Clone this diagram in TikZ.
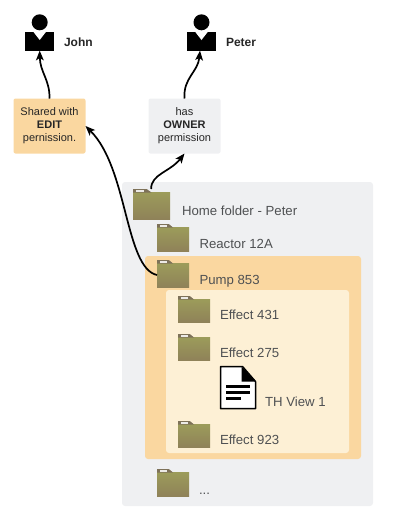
\documentclass[tikz,border=0pt]{standalone}
\usepackage{fontspec}
\setmainfont{Liberation Sans}
\usetikzlibrary{positioning, arrows.meta, calc}
\definecolor{panelgray}{HTML}{EFF0F2}
\definecolor{editorange}{HTML}{FAD7A0}
\definecolor{editlight}{HTML}{FDF0D5}
\definecolor{foldertop}{HTML}{9C9C5A}
\definecolor{folderbot}{HTML}{8F8259}
\definecolor{foldertab}{HTML}{7E7259}
\definecolor{labelgray}{HTML}{4F5153}
% folder: name, left, tab top, body width, body height
\newcommand{\folder}[5]{
  \node[folderbody, minimum width=#4, minimum height=#5, anchor=north west] (#1) at (#2,#3+3) {};
  \fill[foldertab] (#2,#3+3.5) -- (#2,#3) -- (#2+0.37*#4,#3) -- (#2+0.5*#4,#3+3.5) -- cycle;
  \fill[white!85!foldertab] (#2+3,#3+1) rectangle (#2+0.3*#4,#3+2.6);
  \coordinate (#1-tab) at (#2+0.49*#4,#3);
}
% person: name, centre x
\newcommand{\person}[2]{
  \node[head] (#1-head) at (#2,22.3) {};
  \node[torso] (#1) at (#2,41.3) {};
  \fill[white] (#2-6.5,31.6) -- (#2,40) -- (#2+6.5,31.6) -- cycle;
}
\begin{document}
\begin{tikzpicture}[
  x=1pt, y=-1pt,
  >={Stealth[length=3.4mm, width=2.7mm, inset=0.8mm]},
  every node/.style={inner sep=0pt, outer sep=0pt},
  note/.style     = {rounded corners=2pt, align=center, minimum width=72pt, minimum height=55pt, font=\fontsize{11}{13}\selectfont, text=black!85},
  folderbody/.style = {rectangle, top color=foldertop, bottom color=folderbot},
  head/.style     = {circle, fill=black, minimum size=16pt},
  torso/.style    = {rectangle, fill=black, minimum width=28.6pt, minimum height=18.6pt},
  item/.style     = {anchor=base west, text=labelgray, font=\fontsize{13.2}{15}\selectfont},
  who/.style      = {anchor=base west, text=black!85, font=\fontsize{12}{14}\selectfont\bfseries},
  arr/.style      = {->, line width=1.7pt, black},
]
  \useasboundingbox (0,0) rectangle (405,520);
  % Panels behind the folder tree
  \fill[panelgray, rounded corners=3pt] (122,182) rectangle (373,506);
  \fill[editorange, rounded corners=3pt] (145,256) rectangle (361,459);
  \fill[editlight, rounded corners=3pt] (166,290) rectangle (349,453);

  \person{john}{39.7}
  \person{peter}{201.5}
  \node[who] (johnlabel)  at (64,46)  {John};
  \node[who] (peterlabel) at (226,46) {Peter};

  \node[note, fill=editorange] (shared) at (49.5,126) {Shared with\\\textbf{EDIT}\\pernission.};
  \node[note, fill=panelgray]  (owner)  at (184.5,126) {has\\\textbf{OWNER}\\permission};

  % Folder tree
  \folder{home}{133}{189}{37}{27}
  \folder{reactor}{157}{224}{32}{24}
  \folder{pump}{157}{260}{32}{24}
  \folder{more}{157}{469}{32}{24}
  \foreach \name/\ytop in {effecta/296, effectb/334, effectc/421}
     \folder{\name}{178}{\ytop}{32}{23};

  \node[item] (homelabel)    at (182,215.5) {Home folder - Peter};
  \node[item] (reactorlabel) at (199.5,248) {Reactor 12A};
  \node[item] (pumplabel)    at (199.5,284) {Pump 853};
  \node[item] (effectalabel) at (220,319)   {Effect 431};
  \node[item] (effectblabel) at (220,357)   {Effect 275};
  \node[item] (viewlabel)    at (265,406)   {TH View 1};
  \node[item] (effectclabel) at (220,444.5) {Effect 923};
  \node[item] (morelabel)    at (199,494)   {...};

  % Document icon
  \node[minimum width=35pt, minimum height=42pt] (doc) at (238,387.5) {};
  \draw[line width=1.5pt, fill=white, line join=round] (doc.south west) -- (doc.north west) -- ($(doc.north east)+(-13,0)$) -- ($(doc.north east)+(0,15)$) -- (doc.south east) -- cycle;
  \fill[black] ($(doc.north east)+(-14,0)$) -- ($(doc.north east)+(0,15)$) -- ($(doc.north east)+(-14,15)$) -- cycle;
  \foreach \yy/\len in {-6/24, 0/24, 6/15}
     \draw[line width=2.6pt] ($(doc.center)+(-12,\yy+5)$) -- ++(\len,0);

  % Connectors
  \draw[arr] (shared.north) .. controls (50,80) and (40,72) .. (john.south);
  \draw[arr] (owner.north) .. controls (183,78) and (198,72) .. ($(peter.south)+(-1.5,0)$);
  \draw[arr] (home-tab) .. controls (151,174) and (170,172) .. (owner.south);
  \draw[arr] (pump.west) .. controls (125,268) and (128,168) .. (shared.east);
\end{tikzpicture}
\end{document}
